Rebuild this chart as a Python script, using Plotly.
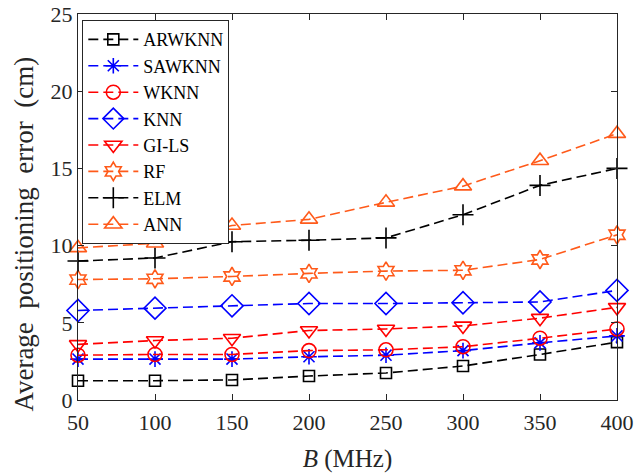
import plotly.graph_objects as go

# Bandwidth values (MHz)
bandwidth = [50, 100, 150, 200, 250, 300, 350, 400]

# Average positioning error (cm) for each method
arwknn = [1.25, 1.25, 1.3, 1.55, 1.75, 2.2, 2.95, 3.75]
sawknn = [2.65, 2.65, 2.65, 2.8, 2.9, 3.2, 3.7, 4.15]
wknn = [2.9, 2.95, 2.95, 3.2, 3.25, 3.45, 4.0, 4.6]
knn = [5.8, 5.95, 6.1, 6.25, 6.25, 6.3, 6.35, 7.1]
gils = [3.6, 3.85, 4.0, 4.5, 4.6, 4.8, 5.3, 6.0]
rf = [7.8, 7.85, 8.0, 8.2, 8.35, 8.4, 9.1, 10.7]
elm = [9.0, 9.2, 10.25, 10.35, 10.5, 12.0, 13.9, 15.0]
ann = [9.85, 10.15, 11.3, 11.7, 12.8, 13.85, 15.5, 17.25]

x_ticks = [50, 100, 150, 200, 250, 300, 350, 400]
y_ticks = [0, 5, 10, 15, 20, 25]

BLACK = "#000000"
BLUE = "#0000ff"
RED = "#ff0000"
ORANGE = "#ff5a1a"

series = [
    ("ARWKNN", arwknn, BLACK, "square-open", 11),
    ("SAWKNN", sawknn, BLUE, "asterisk-open", 13),
    ("WKNN", wknn, RED, "circle-open", 14),
    ("KNN", knn, BLUE, "diamond-open", 17),
    ("GI-LS", gils, RED, "triangle-down-open", 15),
    ("RF", rf, ORANGE, "hexagram-open", 14),
    ("ELM", elm, BLACK, "cross-thin-open", 15),
    ("ANN", ann, ORANGE, "triangle-up-open", 15),
]

fig = go.Figure()
for name, vals, color, symbol, size in series:
    fig.add_trace(go.Scatter(
        x=bandwidth, y=vals, name=name, mode="lines+markers",
        line=dict(color=color, width=1.6, dash="10px,5px"),
        marker=dict(symbol=symbol, size=size, color=color,
                    line=dict(color=color, width=1.6)),
        cliponaxis=False,
    ))

font_family = "Liberation Serif"
axis_color = "#262626"

fig.update_layout(
    width=636, height=473,
    margin=dict(l=77.5, r=18.5, t=14, b=73),
    paper_bgcolor="white", plot_bgcolor="white",
    font=dict(family=font_family, size=22, color=axis_color),
    showlegend=True,
    legend=dict(
        x=0.008, y=0.984, xanchor="left", yanchor="top",
        bgcolor="white", bordercolor=axis_color, borderwidth=1,
        font=dict(family=font_family, size=18, color="#000000"),
        tracegroupgap=0, itemwidth=50,
    ),
)

fig.update_xaxes(
    range=[50, 400], tickvals=x_ticks, ticktext=[str(v) for v in x_ticks],
    showgrid=False, zeroline=False, showline=True, linecolor=axis_color,
    linewidth=1, mirror="ticks", ticks="inside", ticklen=6, tickcolor=axis_color,
    tickfont=dict(family=font_family, size=22, color=axis_color),
    ticklabelstandoff=3,
    automargin=False,
    title=dict(text="<i>B</i> (MHz)",
               font=dict(family=font_family, size=25, color=axis_color), standoff=20),
)
fig.update_yaxes(
    range=[0, 25], tickvals=y_ticks, ticktext=[str(v) for v in y_ticks],
    showgrid=False, zeroline=False, showline=True, linecolor=axis_color,
    linewidth=1, mirror="ticks", ticks="inside", ticklen=6, tickcolor=axis_color,
    tickfont=dict(family=font_family, size=22, color=axis_color),
    automargin=False,
)

# Y-axis label, placed slightly below the vertical centre of the axes
fig.add_annotation(
    text="Average\u00a0 positioning\u00a0 error\u00a0 (cm)",
    xref="paper", yref="paper", x=-0.101, y=0.43,
    xanchor="center", yanchor="middle", textangle=-90, showarrow=False,
    font=dict(family=font_family, size=27, color=axis_color),
)

fig.write_html("out.html")
